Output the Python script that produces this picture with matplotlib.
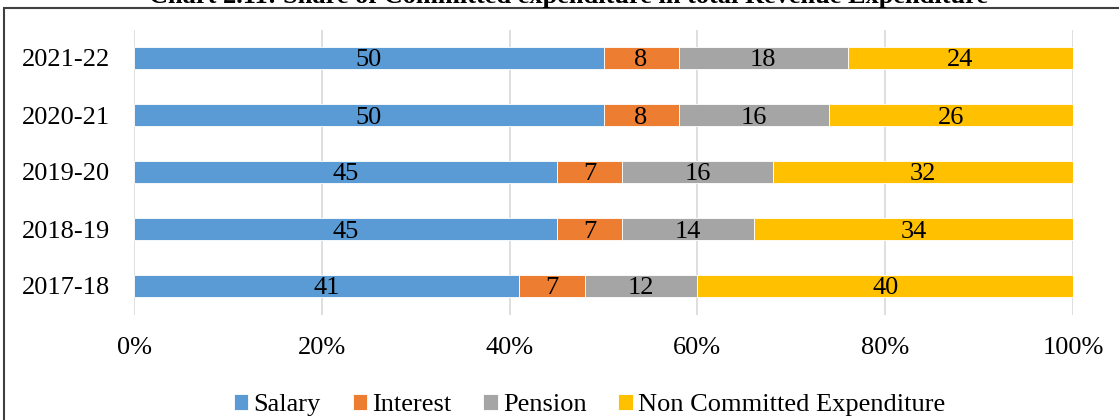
#!/usr/bin/env python3
"""Share of committed expenditure in total revenue expenditure (100% stacked bars)."""
import matplotlib
matplotlib.use("Agg")
import matplotlib.pyplot as plt
from matplotlib.patches import Rectangle
import numpy as np

years = ["2017-18", "2018-19", "2019-20", "2020-21", "2021-22"]
salary = [41, 45, 45, 50, 50]
interest = [7, 7, 7, 8, 8]
pension = [12, 14, 16, 16, 18]
non_committed = [40, 34, 32, 26, 24]

series = [
    ("Salary", salary, "#5B9BD5"),
    ("Interest", interest, "#ED7D31"),
    ("Pension", pension, "#A5A5A5"),
    ("Non Committed Expenditure", non_committed, "#FFC000"),
]

plt.rcParams["font.family"] = ["Liberation Serif", "DejaVu Serif"]
FS = 19

fig = plt.figure(figsize=(11.19, 4.2), dpi=100)
ax = fig.add_axes([134 / 1119, 1 - 314.5 / 420, 939 / 1119, 285 / 420])

totals = np.sum([s[1] for s in series], axis=0)
y = np.arange(len(years))
left = np.zeros(len(years))
for name, vals, color in series:
    share = np.array(vals) / totals
    ax.barh(y, share, left=left, height=0.39, color=color, label=name,
            edgecolor="white", linewidth=0.6, zorder=3)
    for yi, l, w, v in zip(y, left, share, vals):
        ax.text(l + w / 2, yi, str(v), ha="center", va="center_baseline",
                fontsize=FS, zorder=4)
    left += share

ax.set_xlim(0, 1)
ax.set_ylim(-0.5, len(years) - 0.5)
ax.set_yticks(y)
ax.set_yticklabels(years, fontsize=FS)
ax.set_xticks(np.linspace(0, 1, 6))
ax.set_xticklabels([f"{int(v * 100)}%" for v in np.linspace(0, 1, 6)], fontsize=FS)
ax.tick_params(axis="both", length=0)
ax.tick_params(axis="x", pad=16)
ax.tick_params(axis="y", pad=17)
ax.grid(axis="x", color="#D9D9D9", linewidth=1.2, zorder=0)
for sp in ax.spines.values():
    sp.set_visible(False)

fig.legend(loc="center", bbox_to_anchor=(0.527, 1 - 405 / 420), ncol=4, frameon=False,
           fontsize=FS, handlelength=0.55, handleheight=0.55, handletextpad=0.2,
           columnspacing=1.2, borderpad=0)

fig.text(0.508, 1 - 3 / 420, "Chart 2.11: Share of Committed expenditure in total Revenue Expenditure",
         ha="center", va="baseline", fontsize=19, fontweight="bold")

fig.patches.append(Rectangle((4 / 1119, -0.2), 1.2, 1.2 - 8 / 420, transform=fig.transFigure,
                             fill=False, edgecolor="#404040", linewidth=1.5))

fig.savefig("out.png", dpi=100)
